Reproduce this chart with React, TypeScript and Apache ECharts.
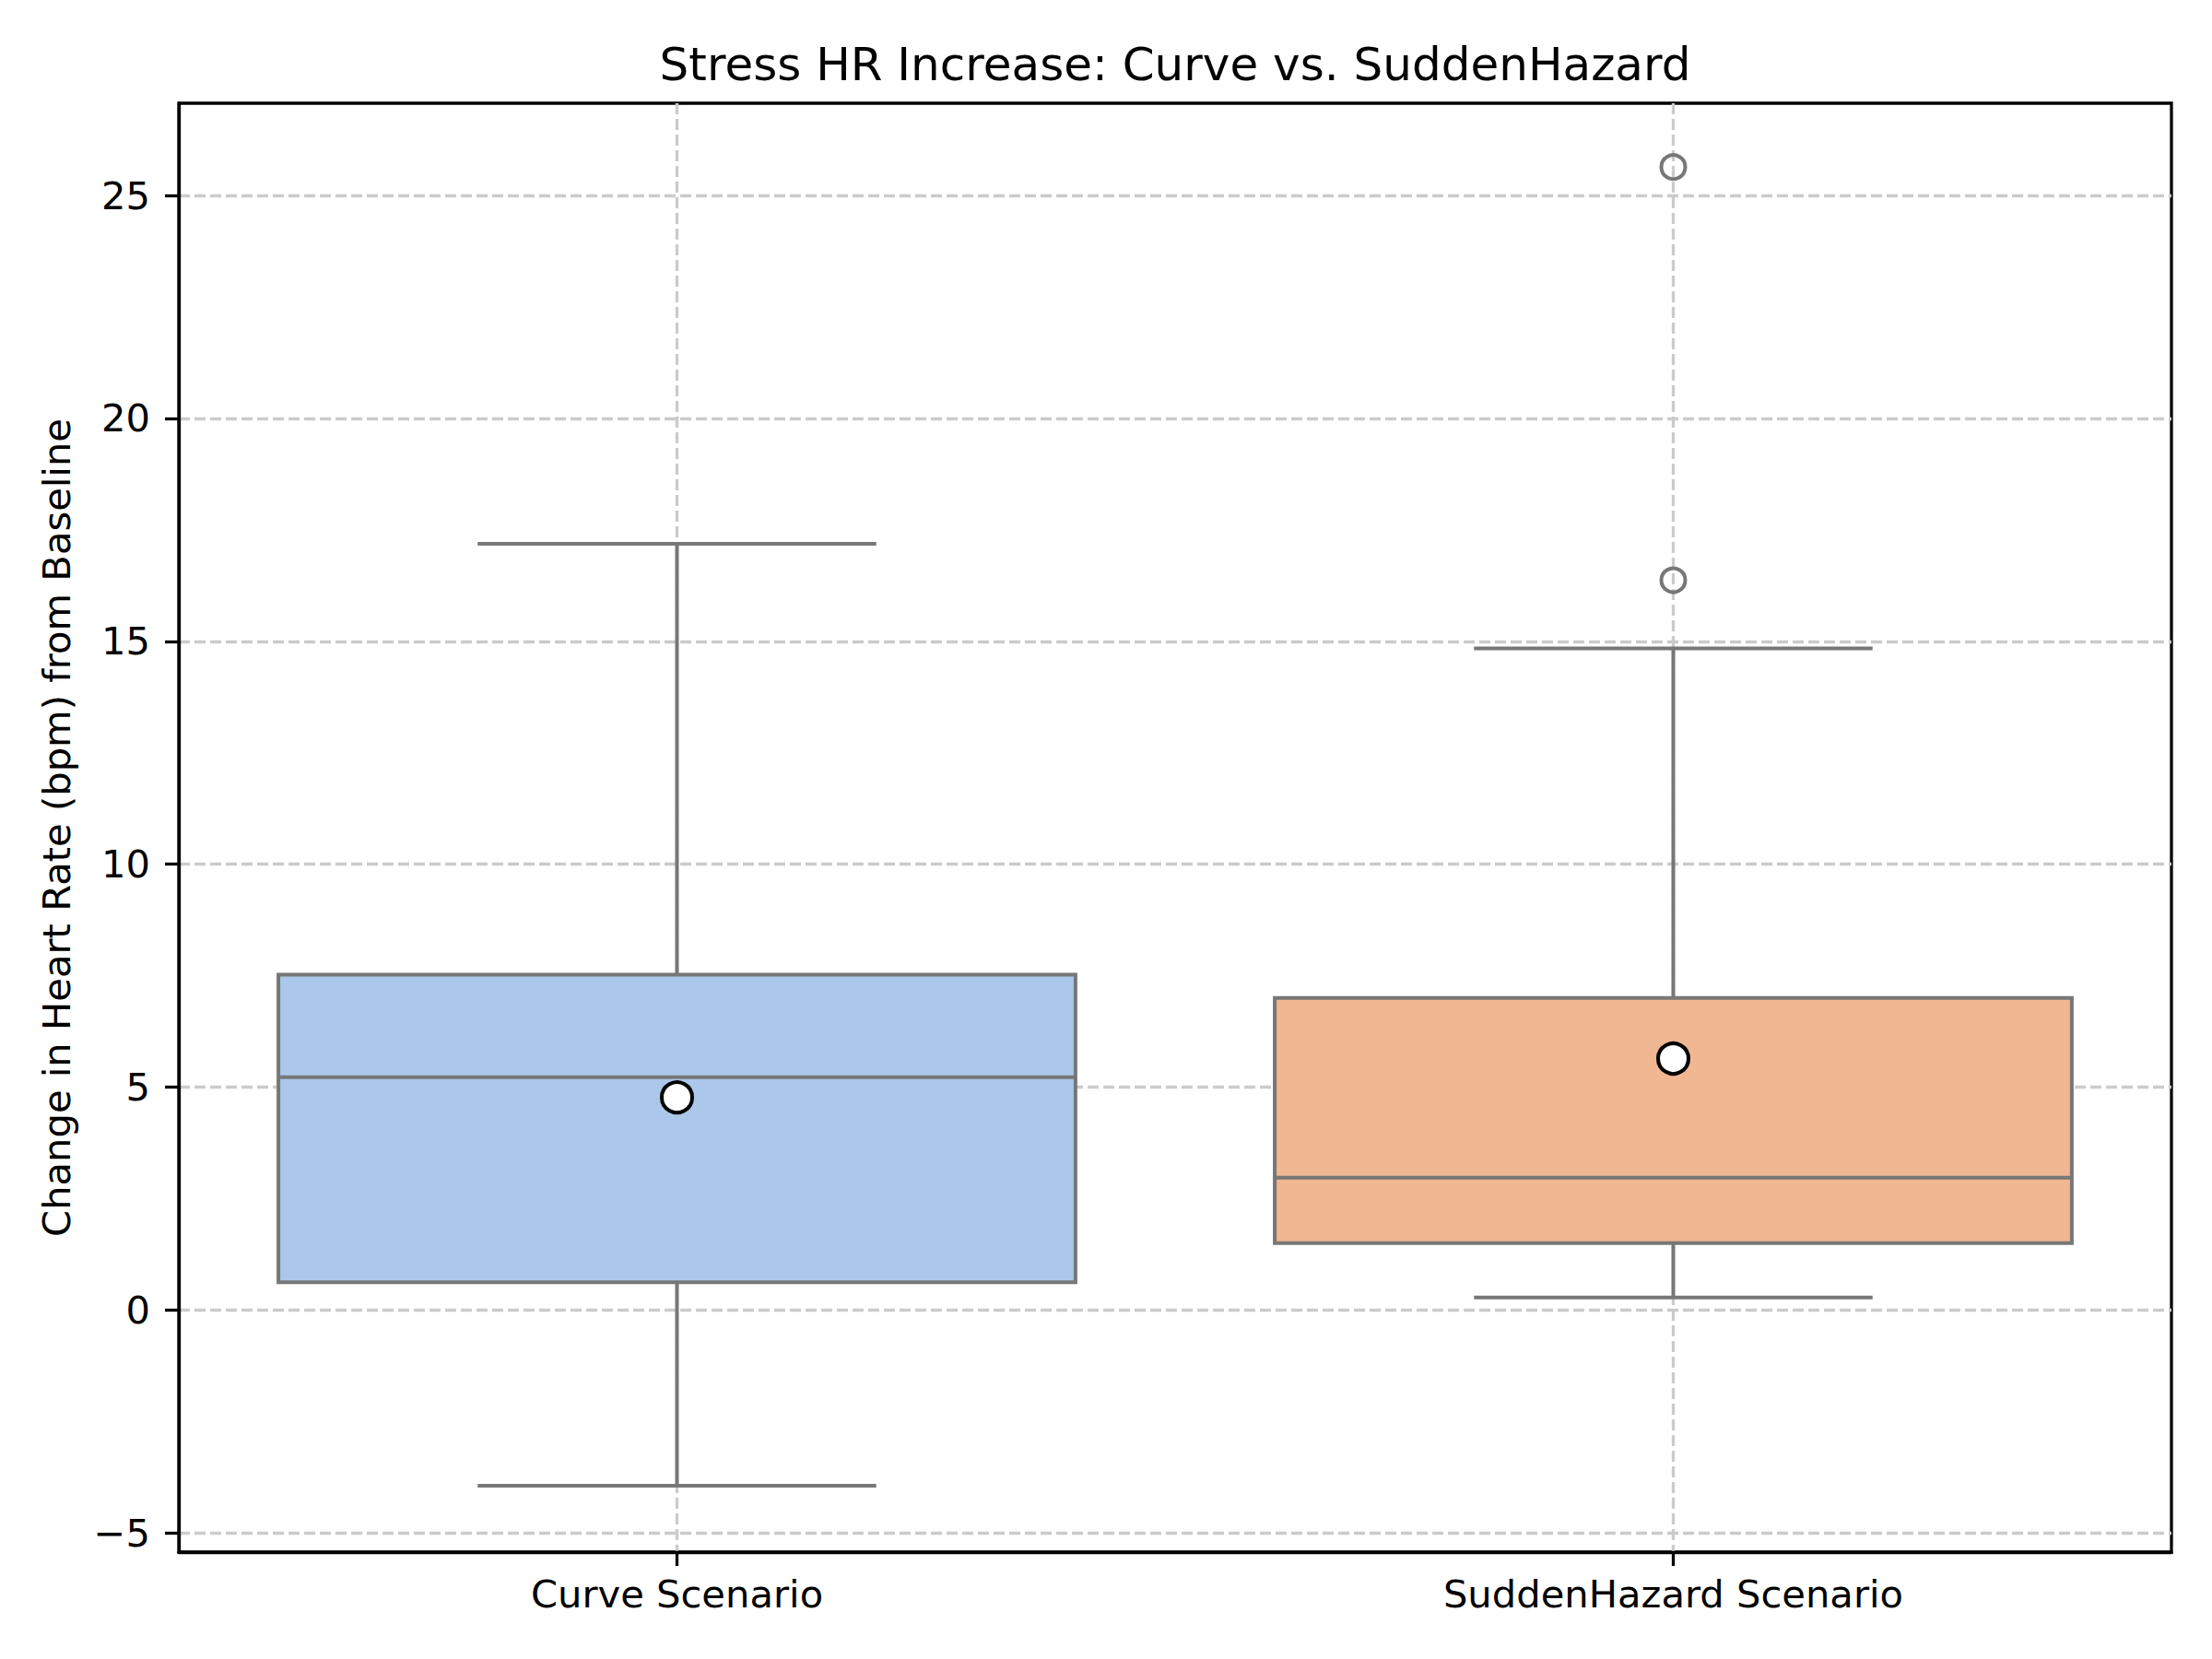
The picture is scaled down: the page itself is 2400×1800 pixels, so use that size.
import React, { useEffect, useRef } from "react";
import * as echarts from "echarts";

const categories = ["Curve Scenario", "SuddenHazard Scenario"];
const whiskerLow = [-3.94, 0.28];
const q1 = [0.62, 1.5];
const median = [5.22, 2.97];
const q3 = [7.52, 7.0];
const whiskerHigh = [17.19, 14.84];
const means = [4.77, 5.64];
const outlierCategory = [1, 1];
const outlierValues = [25.64, 16.37];
const yTicks = [-5, 0, 5, 10, 15, 20, 25];
const xTicks = [0, 1];
const yMin = -5.43;
const yMax = 27.07;
const boxColors = ["#abc8eb", "#efb792"];

const TITLE = "Stress HR Increase: Curve vs. SuddenHazard";
const Y_NAME = "Change in Heart Rate (bpm) from Baseline";
const FONT = "DejaVu Sans";
const EDGE = "#777777";

export default function App() {
  const ref = useRef<HTMLDivElement>(null);

  useEffect(() => {
    if (!ref.current) return;
    const chart = echarts.init(ref.current, null, { renderer: "svg" });

    const boxData = categories.map((_, i) => [
      i,
      whiskerLow[i],
      q1[i],
      median[i],
      q3[i],
      whiskerHigh[i],
    ]);
    const meanData = categories.map((_, i) => [i, means[i]]);
    const outlierData = outlierValues.map((v, i) => [outlierCategory[i], v]);

    const option: any = {
      animation: false,
      backgroundColor: "#ffffff",
      textStyle: { fontFamily: FONT },
      graphic: [
        {
          type: "text",
          x: 1275,
          y: 70,
          style: {
            text: TITLE,
            fontFamily: FONT,
            fontSize: 50,
            fill: "#000",
            textAlign: "center",
            textVerticalAlign: "middle",
          },
        },
      ],
      grid: {
        left: 194,
        right: 44,
        top: 112,
        bottom: 116,
        show: true,
        borderColor: "#000",
        borderWidth: 3.3,
        backgroundColor: "transparent",
      },
      xAxis: {
        type: "value",
        min: -0.5,
        max: 1.5,
        axisLine: { show: true, onZero: false, lineStyle: { color: "#000", width: 3.3 } },
        axisTick: {
          show: true,
          customValues: xTicks,
          length: 15,
          lineStyle: { color: "#000", width: 3.3 },
        },
        axisLabel: {
          customValues: xTicks,
          margin: 24,
          fontSize: 41.67,
          fontFamily: FONT,
          color: "#000",
          formatter: (v: number) => categories[Math.round(v)] ?? "",
        },
        splitLine: {
          show: true,
          lineStyle: { color: "#cbcbcb", width: 3.3, type: [12, 5] },
        },
      },
      yAxis: {
        type: "value",
        min: yMin,
        max: yMax,
        name: Y_NAME,
        nameLocation: "middle",
        nameGap: 112,
        nameTextStyle: { fontSize: 41.67, fontFamily: FONT, color: "#000" },
        axisLine: { show: true, onZero: false, lineStyle: { color: "#000", width: 3.3 } },
        axisTick: {
          show: true,
          customValues: yTicks,
          length: 15,
          lineStyle: { color: "#000", width: 3.3 },
        },
        axisLabel: {
          customValues: yTicks,
          margin: 31,
          fontSize: 41.67,
          fontFamily: FONT,
          color: "#000",
          formatter: (v: number) => (v < 0 ? "\u2212" + Math.abs(v) : String(v)),
        },
        splitLine: {
          show: true,
          lineStyle: { color: "#cbcbcb", width: 3.3, type: [12, 5] },
        },
      },
      series: [
        {
          type: "custom",
          data: boxData,
          encode: { x: 0, y: [1, 2, 3, 4, 5] },
          z: 2,
          renderItem: (params: any, api: any) => {
            const x = api.value(0);
            const lo = api.coord([x, api.value(1)]);
            const b1 = api.coord([x, api.value(2)]);
            const med = api.coord([x, api.value(3)]);
            const b3 = api.coord([x, api.value(4)]);
            const hi = api.coord([x, api.value(5)]);
            const bw = api.size([0.8, 0])[0];
            const cw = bw / 2;
            const cx = lo[0];
            const ls = { stroke: EDGE, lineWidth: 4, fill: "none" };
            return {
              type: "group",
              children: [
                { type: "line", shape: { x1: cx, y1: lo[1], x2: cx, y2: b1[1] }, style: ls },
                { type: "line", shape: { x1: cx, y1: b3[1], x2: cx, y2: hi[1] }, style: ls },
                { type: "line", shape: { x1: cx - cw / 2, y1: lo[1], x2: cx + cw / 2, y2: lo[1] }, style: ls },
                { type: "line", shape: { x1: cx - cw / 2, y1: hi[1], x2: cx + cw / 2, y2: hi[1] }, style: ls },
                {
                  type: "rect",
                  shape: { x: cx - bw / 2, y: b3[1], width: bw, height: b1[1] - b3[1] },
                  style: { fill: boxColors[params.dataIndex], stroke: EDGE, lineWidth: 4 },
                },
                { type: "line", shape: { x1: cx - bw / 2, y1: med[1], x2: cx + bw / 2, y2: med[1] }, style: ls },
              ],
            };
          },
        },
        {
          type: "scatter",
          data: outlierData,
          symbol: "circle",
          symbolSize: 26,
          z: 3,
          itemStyle: { color: "rgba(0,0,0,0)", borderColor: EDGE, borderWidth: 4, opacity: 1 },
        },
        {
          type: "scatter",
          data: meanData,
          symbol: "circle",
          symbolSize: 33,
          z: 4,
          itemStyle: { color: "#ffffff", borderColor: "#000000", borderWidth: 4, opacity: 1 },
        },
      ],
    };

    chart.setOption(option);
    return () => chart.dispose();
  }, []);

  return (
    <div
      ref={ref}
      style={{ position: "absolute", left: 0, top: 0, width: 2400, height: 1800 }}
    />
  );
}
